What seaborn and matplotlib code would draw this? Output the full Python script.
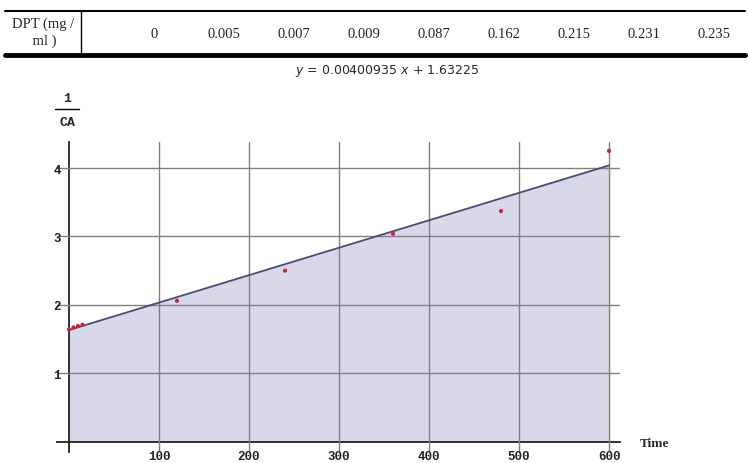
import numpy as np
import pandas as pd
import matplotlib.pyplot as plt
import seaborn as sns
from matplotlib.lines import Line2D
from matplotlib.ticker import MultipleLocator

# table row
dpt_values = ['0', '0.005', '0.007', '0.009', '0.087', '0.162', '0.215', '0.231', '0.235']

# measured points
time = [0, 5, 10, 15, 120, 240, 360, 480, 600]
inv_ca = [1.64, 1.67, 1.69, 1.71, 2.06, 2.50, 3.04, 3.37, 4.25]

# fitted line from the equation
slope = 0.00400935
intercept = 1.63225

sns.set_style('white')
plt.rcParams['font.family'] = ['Liberation Serif', 'DejaVu Serif']

W, H = 748, 464
fig = plt.figure(figsize=(W / 100, H / 100), dpi=100)


def fx(px):
    return px / W


def fy(py):
    return 1 - py / H


# ---- table at the top ----
fig.add_artist(Line2D([fx(5), fx(745)], [fy(12), fy(12)], color='black', lw=1.5))
fig.add_artist(Line2D([fx(5), fx(745)], [fy(56), fy(56)], color='black', lw=3.5))
fig.add_artist(Line2D([fx(81), fx(81)], [fy(12), fy(56)], color='black', lw=1.0))
fig.text(fx(43), fy(33), 'DPT (mg /\n ml )', ha='center', va='center', fontsize=10.5, linespacing=1.35)
col_x = np.linspace(154, 714, len(dpt_values))
for cx, v in zip(col_x, dpt_values):
    fig.text(fx(cx), fy(34), v, ha='center', va='center', fontsize=10.5)

# ---- plot ----
ax = fig.add_axes([fx(57), fy(453), fx(620) - fx(57), fy(143) - fy(453)])
ax.set_facecolor('none')

xs = np.linspace(min(time), max(time), 50)
df_fit = pd.DataFrame({'Time': xs, 'fit': slope * xs + intercept})
ax.fill_between(df_fit['Time'], 0, df_fit['fit'], color='#d8d8e9', zorder=1)
sns.lineplot(data=df_fit, x='Time', y='fit', ax=ax, color='#4b4b7a', lw=1.3, zorder=3)
sns.scatterplot(x=time, y=inv_ca, ax=ax, color='#d0203a', s=9, edgecolor='none', zorder=4)

ax.set_xlim(-13.3, 612.2)
ax.set_ylim(-0.15, 4.38)

ax.spines['left'].set_position(('data', 0))
ax.spines['bottom'].set_position(('data', 0))
ax.spines['top'].set_visible(False)
ax.spines['right'].set_visible(False)
for s in ('left', 'bottom'):
    ax.spines[s].set_color('#222222')
    ax.spines[s].set_linewidth(1.3)

ax.xaxis.set_minor_locator(MultipleLocator(20))
ax.yaxis.set_minor_locator(MultipleLocator(0.2))
ax.set_xticks([100, 200, 300, 400, 500, 600])
ax.set_yticks([1, 2, 3, 4])
ax.tick_params(which='major', direction='inout', length=8, width=1.1, color='#222222',
               labelsize=9, pad=2)
ax.tick_params(which='minor', direction='in', length=3, width=1, color='#222222')
for lab in ax.get_xticklabels() + ax.get_yticklabels():
    lab.set_family('Liberation Mono')
    lab.set_weight('bold')
    lab.set_color('#222222')

# grid drawn over the shaded area
ax.grid(True, which='major', color='#808080', lw=1.0)
ax.set_axisbelow(False)
ax.set_xlabel('')
ax.set_ylabel('')

# equation title
fig.text(fx(387), fy(71), r'$y$ = 0.00400935 $x$ + 1.63225', ha='center', va='center',
         fontsize=9, family=['DejaVu Sans'])

# 1/CA label
fig.text(fx(67), fy(99), '1', ha='center', va='center', fontsize=9.5, family='Liberation Mono', weight='bold')
fig.add_artist(Line2D([fx(55), fx(79)], [fy(110), fy(110)], color='black', lw=1.0))
fig.text(fx(67), fy(123), 'CA', ha='center', va='center', fontsize=9.5, family='Liberation Mono', weight='bold')

# axis label at right
fig.text(fx(640), fy(444), 'Time', ha='left', va='center', fontsize=9.5, weight='bold')

fig.savefig('out.png', dpi=100)
